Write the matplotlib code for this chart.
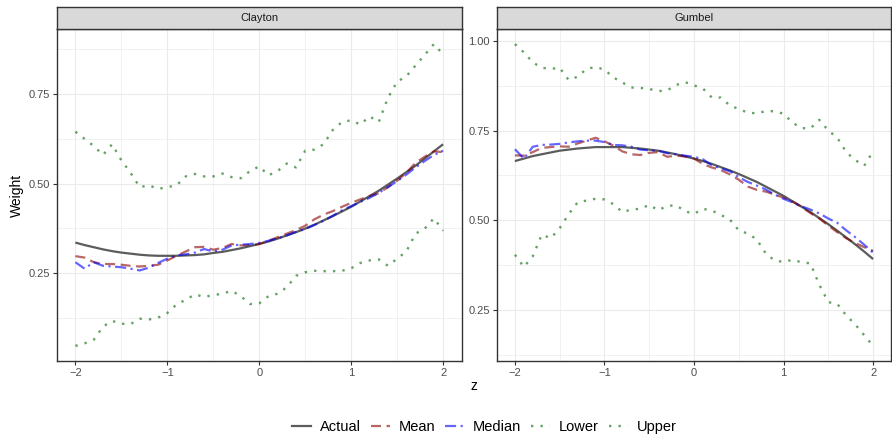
import numpy as np
import matplotlib.pyplot as plt
from matplotlib.lines import Line2D

plt.rcParams['font.family'] = ['Liberation Sans', 'DejaVu Sans']

z = np.round(np.arange(-2.0, 2.01, 0.1), 1)

# Clayton panel
clayton_actual = [0.335, 0.328, 0.322, 0.316, 0.311, 0.307, 0.304, 0.301, 0.299, 0.298,
                  0.298, 0.298, 0.299, 0.300, 0.302, 0.306, 0.309, 0.314, 0.319, 0.325,
                  0.331, 0.338, 0.346, 0.355, 0.364, 0.374, 0.385, 0.397, 0.409, 0.422,
                  0.435, 0.450, 0.465, 0.480, 0.497, 0.514, 0.532, 0.550, 0.570, 0.590, 0.610]
clayton_mean = [0.297, 0.293, 0.280, 0.275, 0.275, 0.273, 0.270, 0.268, 0.270, 0.273,
                0.285, 0.298, 0.310, 0.322, 0.323, 0.315, 0.320, 0.331, 0.327, 0.328,
                0.331, 0.340, 0.350, 0.360, 0.370, 0.382, 0.400, 0.413, 0.423, 0.435,
                0.446, 0.456, 0.465, 0.473, 0.490, 0.508, 0.530, 0.558, 0.575, 0.590, 0.588]
clayton_median = [0.280, 0.262, 0.280, 0.270, 0.268, 0.266, 0.262, 0.257, 0.265, 0.278,
                  0.290, 0.299, 0.302, 0.307, 0.317, 0.310, 0.315, 0.327, 0.329, 0.331,
                  0.334, 0.340, 0.347, 0.355, 0.365, 0.373, 0.384, 0.396, 0.410, 0.425,
                  0.437, 0.449, 0.460, 0.474, 0.490, 0.507, 0.525, 0.545, 0.563, 0.580, 0.592]
clayton_lower = [0.046, 0.053, 0.063, 0.100, 0.116, 0.108, 0.107, 0.122, 0.120, 0.125,
                 0.138, 0.162, 0.175, 0.190, 0.183, 0.188, 0.192, 0.200, 0.185, 0.163,
                 0.165, 0.185, 0.192, 0.210, 0.242, 0.252, 0.256, 0.255, 0.255, 0.256,
                 0.263, 0.278, 0.285, 0.288, 0.270, 0.290, 0.310, 0.360, 0.374, 0.403, 0.368]
clayton_upper = [0.645, 0.625, 0.605, 0.580, 0.610, 0.565, 0.530, 0.490, 0.495, 0.485,
                 0.490, 0.495, 0.520, 0.527, 0.520, 0.520, 0.528, 0.518, 0.515, 0.535,
                 0.548, 0.523, 0.535, 0.556, 0.545, 0.592, 0.595, 0.610, 0.650, 0.672,
                 0.677, 0.665, 0.688, 0.672, 0.740, 0.785, 0.800, 0.830, 0.860, 0.890, 0.861]

# Gumbel panel
gumbel_actual = [0.665, 0.672, 0.679, 0.684, 0.689, 0.694, 0.697, 0.700, 0.702, 0.704,
                 0.704, 0.704, 0.704, 0.702, 0.700, 0.697, 0.694, 0.689, 0.684, 0.678,
                 0.672, 0.665, 0.657, 0.648, 0.639, 0.629, 0.618, 0.607, 0.594, 0.581,
                 0.568, 0.553, 0.538, 0.523, 0.506, 0.489, 0.471, 0.452, 0.433, 0.413, 0.392]
gumbel_mean = [0.681, 0.680, 0.690, 0.702, 0.704, 0.706, 0.705, 0.714, 0.722, 0.730,
               0.720, 0.708, 0.692, 0.684, 0.682, 0.688, 0.690, 0.677, 0.680, 0.678,
               0.672, 0.657, 0.647, 0.640, 0.628, 0.613, 0.594, 0.585, 0.580, 0.572,
               0.563, 0.552, 0.538, 0.520, 0.505, 0.485, 0.467, 0.450, 0.437, 0.425, 0.415]
gumbel_median = [0.698, 0.672, 0.705, 0.710, 0.711, 0.713, 0.717, 0.720, 0.722, 0.722,
                 0.718, 0.710, 0.709, 0.705, 0.697, 0.695, 0.694, 0.687, 0.684, 0.680,
                 0.677, 0.670, 0.653, 0.645, 0.637, 0.620, 0.607, 0.597, 0.586, 0.572,
                 0.560, 0.550, 0.539, 0.530, 0.519, 0.505, 0.493, 0.472, 0.453, 0.432, 0.410]
gumbel_lower = [0.404, 0.370, 0.400, 0.460, 0.450, 0.478, 0.517, 0.550, 0.555, 0.560,
                0.558, 0.545, 0.523, 0.530, 0.532, 0.543, 0.528, 0.540, 0.542, 0.525,
                0.518, 0.532, 0.527, 0.515, 0.502, 0.472, 0.463, 0.447, 0.408, 0.388,
                0.384, 0.390, 0.383, 0.380, 0.320, 0.272, 0.267, 0.235, 0.210, 0.180, 0.150]
gumbel_upper = [0.991, 0.968, 0.940, 0.925, 0.922, 0.925, 0.891, 0.900, 0.922, 0.927,
                0.920, 0.898, 0.884, 0.870, 0.869, 0.866, 0.860, 0.862, 0.877, 0.885,
                0.876, 0.867, 0.842, 0.842, 0.820, 0.810, 0.800, 0.798, 0.804, 0.804,
                0.797, 0.772, 0.757, 0.756, 0.780, 0.750, 0.730, 0.690, 0.668, 0.652, 0.692]

panels = ['Clayton', 'Gumbel']
series_names = ['Actual', 'Mean', 'Median', 'Lower', 'Upper']
panel_data = {
    'Clayton': [clayton_actual, clayton_mean, clayton_median, clayton_lower, clayton_upper],
    'Gumbel': [gumbel_actual, gumbel_mean, gumbel_median, gumbel_lower, gumbel_upper],
}
yticks = {'Clayton': [0.25, 0.50, 0.75], 'Gumbel': [0.25, 0.50, 0.75, 1.00]}

styles = {
    'Actual': dict(color='#333333', alpha=0.8, lw=1.6, ls='-'),
    'Mean': dict(color='#8B0000', alpha=0.6, lw=1.6, dashes=(4.5, 2.5)),
    'Median': dict(color='#0000FF', alpha=0.6, lw=1.6, dashes=(5, 2, 1, 2)),
    'Lower': dict(color='#006400', alpha=0.6, lw=1.7, dashes=(1, 3)),
    'Upper': dict(color='#006400', alpha=0.6, lw=1.7, dashes=(1, 3)),
}

W, H = 892, 436
fig = plt.figure(figsize=(W / 100, H / 100), dpi=100)

boxes = [(57, 461.5), (497, 891)]
top_px, bot_px, strip_top = 29, 361, 7

for (x0, x1), name in zip(boxes, panels):
    ax = fig.add_axes([x0 / W, 1 - bot_px / H, (x1 - x0) / W, (bot_px - top_px) / H])
    vals = panel_data[name]
    for s, y in zip(series_names, vals):
        ax.plot(z, y, solid_capstyle='butt', dash_capstyle='butt', **styles[s])
    allv = np.concatenate([np.array(v) for v in vals])
    lo, hi = allv.min(), allv.max()
    pad = (hi - lo) * 0.05
    ax.set_xlim(-2.2, 2.2)
    ax.set_xticks([-2, -1, 0, 1, 2])
    ax.set_xticklabels(['\u22122', '\u22121', '0', '1', '2'])
    ax.set_xticks([-1.5, -0.5, 0.5, 1.5], minor=True)
    yt = yticks[name]
    ax.set_yticks(yt)
    ax.set_yticklabels(['%.2f' % v for v in yt])
    ax.set_yticks([v - 0.125 for v in yt] + [yt[-1] + 0.125], minor=True)
    ax.set_ylim(lo - pad, hi + pad)
    ax.grid(True, which='major', color='#EBEBEB', lw=0.8)
    ax.grid(True, which='minor', color='#EBEBEB', lw=0.5)
    ax.set_axisbelow(True)
    ax.tick_params(which='major', length=3, width=0.8, color='#333333',
                   labelsize=8, labelcolor='#4D4D4D', pad=2)
    ax.tick_params(which='minor', length=0)
    for sp in ax.spines.values():
        sp.set_color('#333333')
        sp.set_linewidth(1.0)

    strip = fig.add_axes([x0 / W, 1 - top_px / H, (x1 - x0) / W, (top_px - strip_top) / H])
    strip.set_facecolor('#D9D9D9')
    strip.set_xticks([])
    strip.set_yticks([])
    for sp in strip.spines.values():
        sp.set_color('#333333')
        sp.set_linewidth(1.0)
    strip.text(0.5, 0.5, name, ha='center', va='center', fontsize=8, color='#1A1A1A',
               transform=strip.transAxes)

fig.text(474 / W, 1 - 386 / H, 'z', ha='center', va='center', fontsize=10)
fig.text(17 / W, 1 - 195 / H, 'Weight', ha='center', va='center', rotation=90, fontsize=10)

handles = []
for s in series_names:
    st = dict(styles[s])
    handles.append(Line2D([], [], **st))
fig.legend(handles, series_names, loc='center', bbox_to_anchor=(0.543, 1 - 427 / H),
           ncol=5, frameon=False, fontsize=10.5, handlelength=1.3, handletextpad=0.6,
           columnspacing=0.7)

fig.savefig('out.png', dpi=100)
